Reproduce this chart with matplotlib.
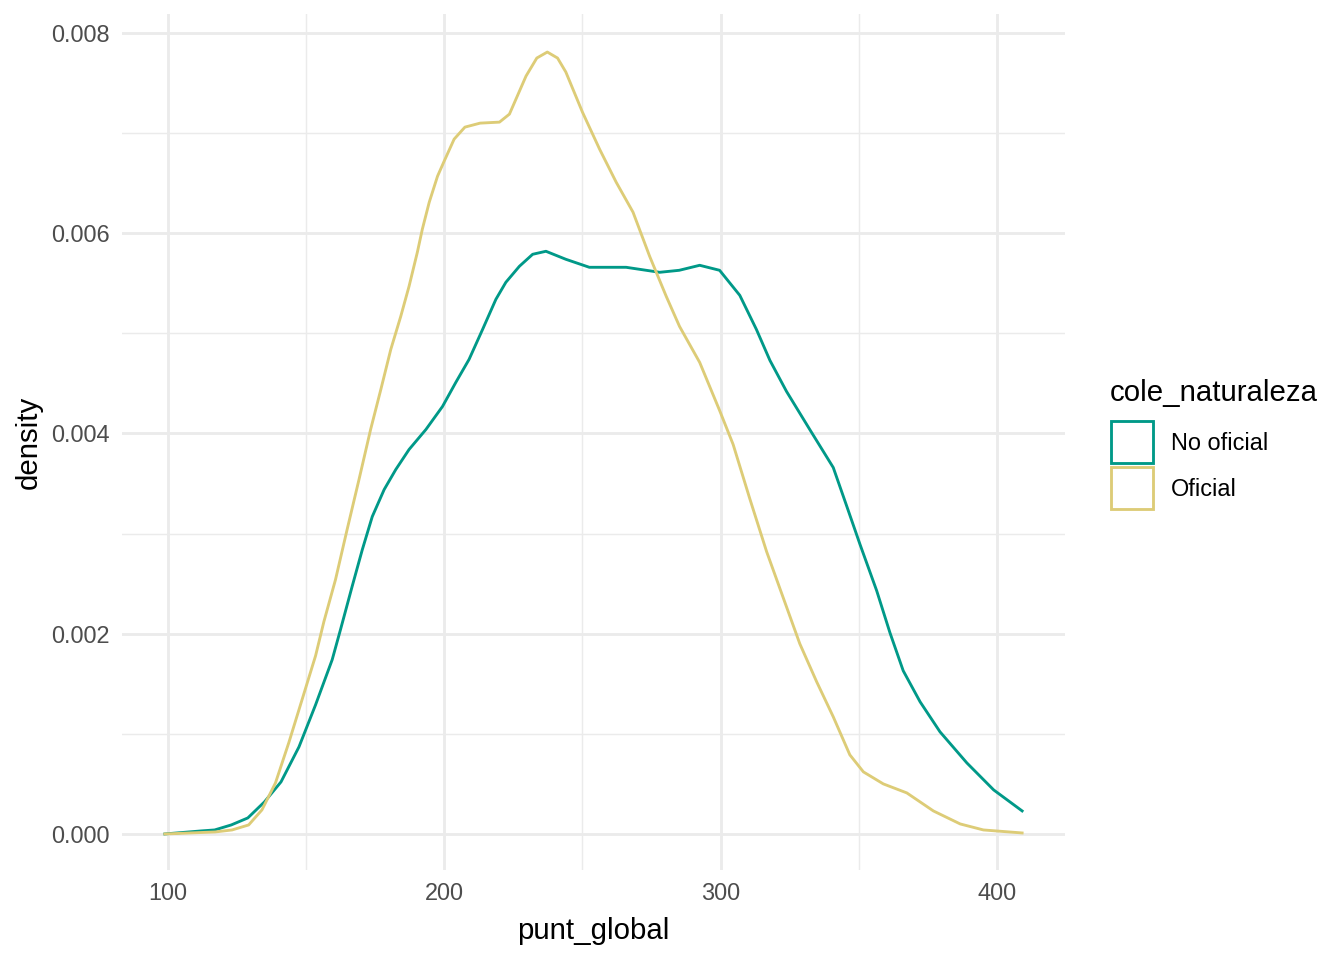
import numpy as np
import matplotlib.pyplot as plt
from matplotlib.patches import Rectangle

plt.rcParams['font.family'] = ['Liberation Sans', 'DejaVu Sans']

# density curves (x = punt_global, y in units of 1e-3)
x_nooficial = [99, 112, 117, 123, 129, 135, 141, 147.5, 153.5, 159.5, 162.5, 166.7,
               170.4, 174, 178.3, 182.5, 187.3, 193.4, 199.4, 204.2, 209, 213.9,
               218.7, 222.3, 227.2, 232, 236.8, 244, 252.5, 265.8, 277.9, 285,
               292.4, 299.6, 306.9, 312.9, 317.8, 323.8, 332.2, 340.7, 345.5,
               350.4, 356.4, 361.2, 366, 372.1, 379.3, 389, 398.7, 409]
y_nooficial = [0, 0.03, 0.04, 0.09, 0.16, 0.32, 0.52, 0.87, 1.29, 1.74, 2.04, 2.47,
               2.84, 3.17, 3.44, 3.64, 3.84, 4.04, 4.27, 4.51, 4.74, 5.04,
               5.34, 5.51, 5.67, 5.79, 5.82, 5.74, 5.66, 5.66, 5.61, 5.63,
               5.68, 5.63, 5.38, 5.04, 4.73, 4.42, 4.04, 3.66, 3.28,
               2.89, 2.43, 2.01, 1.63, 1.32, 1.02, 0.71, 0.44, 0.23]

x_oficial = [99, 117.2, 123.3, 129.3, 134.1, 139, 143.8, 148.6, 153.5, 156.5, 160.7,
             164.9, 169.2, 173.4, 177.1, 180.7, 184.3, 187.3, 190.3, 192.1, 194.6,
             197.6, 200, 203.6, 207.5, 213, 220, 223.6, 229.6, 233.5, 237.3, 241,
             244, 250, 256.2, 262.2, 268.3, 274.3, 280.3, 285.1, 292.4, 299.6,
             304.5, 310.5, 316.6, 322.6, 328.6, 334.7, 340.7, 346.7, 351.6, 358.8,
             367.3, 376.9, 386.6, 395, 409]
y_oficial = [0, 0.02, 0.04, 0.09, 0.24, 0.51, 0.91, 1.34, 1.78, 2.12, 2.54,
             3.04, 3.54, 4.04, 4.44, 4.84, 5.17, 5.47, 5.81, 6.04, 6.31,
             6.57, 6.72, 6.94, 7.06, 7.10, 7.11, 7.19, 7.57, 7.75, 7.81, 7.75,
             7.61, 7.21, 6.84, 6.51, 6.21, 5.77, 5.37, 5.07, 4.71, 4.23,
             3.89, 3.35, 2.82, 2.36, 1.90, 1.52, 1.17, 0.79, 0.62, 0.50,
             0.41, 0.23, 0.10, 0.04, 0.01]

groups = ['No oficial', 'Oficial']
colors = ['#009988', '#DDCC77']

x_ticks = [100, 200, 300, 400]
y_ticks = [0.000, 0.002, 0.004, 0.006, 0.008]

fig = plt.figure(figsize=(7, 5), dpi=192)
ax = fig.add_axes([122 / 1344, 1 - 870 / 960, (1065 - 122) / 1344, (870 - 14) / 960])

ax.plot(x_nooficial, np.array(y_nooficial) / 1000, color=colors[0], lw=1.07)
ax.plot(x_oficial, np.array(y_oficial) / 1000, color=colors[1], lw=1.07)

ax.set_xlim(83.5, 424.5)
ax.set_ylim(-0.00036, 0.00819)
ax.set_xticks(x_ticks)
ax.set_xticklabels([str(t) for t in x_ticks])
ax.set_yticks(y_ticks)
ax.set_yticklabels(['%.3f' % t for t in y_ticks])
ax.set_xticks([150, 250, 350], minor=True)
ax.set_yticks([0.001, 0.003, 0.005, 0.007], minor=True)

ax.grid(which='major', color='#EBEBEB', lw=1.07)
ax.grid(which='minor', color='#EBEBEB', lw=0.53)
ax.set_axisbelow(True)
ax.tick_params(which='both', length=0, labelsize=8.8, labelcolor='#4D4D4D', pad=4.5)
for s in ax.spines.values():
    s.set_visible(False)

fig.text(593.5 / 1344, 1 - 931 / 960, 'punt_global', fontsize=11, ha='center', va='center')
fig.text(29 / 1344, 1 - 442 / 960, 'density', fontsize=11, ha='center', va='center',
         rotation=90)

# legend drawn by hand, ggplot style
fig.text(1110 / 1344, 1 - 393 / 960, 'cole_naturaleza', fontsize=11, ha='left', va='center')
for i, (g, c) in enumerate(zip(groups, colors)):
    top = 421 + i * 46
    fig.patches.append(Rectangle((1111 / 1344, 1 - (top + 42) / 960), 42 / 1344, 42 / 960,
                                 transform=fig.transFigure, facecolor='white',
                                 edgecolor=c, lw=1.07))
    fig.text(1171 / 1344, 1 - (top + 22) / 960, g, fontsize=8.8, ha='left', va='center')

fig.savefig('out.png', dpi=192)
